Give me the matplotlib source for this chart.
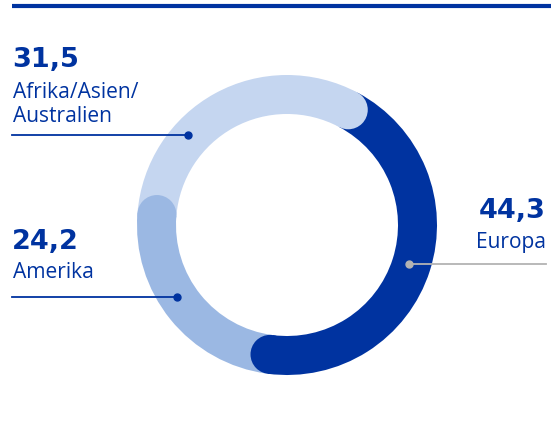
import matplotlib
matplotlib.use("Agg")
import matplotlib.pyplot as plt
import numpy as np
from matplotlib.patches import Circle

regions = ["Europa", "Amerika", "Afrika/Asien/\nAustralien"]
values = [44.3, 24.2, 31.5]
value_labels = ["44,3", "24,2", "31,5"]
colors = ["#0033a0", "#9bb8e3", "#c5d6f0"]

W, H = 551, 426
fig = plt.figure(figsize=(W / 100, H / 100), dpi=100)
ax = fig.add_axes([0, 0, 1, 1])

DARK = "#0033a0"
cx, cy = 287, H - 225
R, w = 150, 39
start = 62

wedges, _ = ax.pie(values, colors=colors, startangle=start, counterclock=False,
                   radius=R, center=(cx, cy), frame=True,
                   wedgeprops=dict(width=w, linewidth=0, antialiased=True))
ax.set_xlim(0, W)
ax.set_ylim(0, H)
ax.set_aspect("equal")
ax.axis("off")

# rounded end caps (clockwise end of each segment)
total = sum(values)
ang = start
rm = R - w / 2
for v, c in zip(values, colors):
    ang -= 360 * v / total
    t = np.deg2rad(ang)
    ax.add_patch(Circle((cx + rm * np.cos(t), cy + rm * np.sin(t)), w / 2,
                        color=c, lw=0, zorder=3))

# top rule
ax.plot([12, W], [H - 6, H - 6], color=DARK, lw=3, solid_capstyle="butt", zorder=5)

num_font = dict(family="DejaVu Sans", weight="bold", size=19.5, color=DARK)
lab_font = dict(family="Open Sans", size=15.1, color=DARK)

# Afrika/Asien/Australien
ax.text(12, H - 67, value_labels[2], ha="left", va="baseline", **num_font)
ax.text(13, H - 98, "Afrika/Asien/", ha="left", va="baseline", **lab_font)
ax.text(13, H - 122, "Australien", ha="left", va="baseline", **lab_font)
ax.plot([12, 188], [H - 135, H - 135], color=DARK, lw=1.3, zorder=6)
ax.plot([188], [H - 135], "o", color=DARK, ms=5, zorder=7)

# Amerika
ax.text(12, H - 249, value_labels[1], ha="left", va="baseline", **num_font)
ax.text(13, H - 278, regions[1], ha="left", va="baseline", **lab_font)
ax.plot([12, 177], [H - 297, H - 297], color=DARK, lw=1.3, zorder=6)
ax.plot([177], [H - 297], "o", color=DARK, ms=5, zorder=7)

# Europa
ax.text(546, H - 218, value_labels[0], ha="right", va="baseline", **num_font)
ax.text(546, H - 248, regions[0], ha="right", va="baseline", **lab_font)
ax.plot([409, 546], [H - 264, H - 264], color="#b3b3b3", lw=1.3, zorder=6)
ax.plot([409], [H - 264], "o", color="#b3b3b3", ms=5, zorder=7)

fig.savefig("out.png", dpi=100)
